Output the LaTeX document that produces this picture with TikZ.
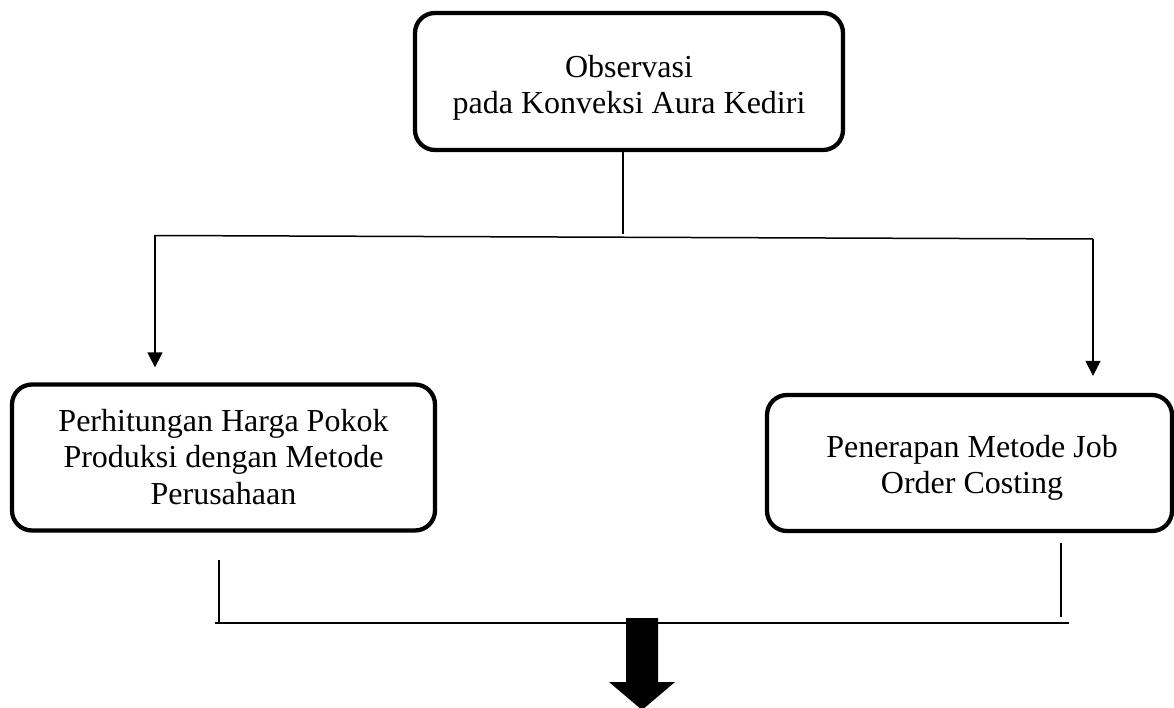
\documentclass[tikz,border=0pt]{standalone}
\usepackage{fontspec}
\setmainfont{Liberation Serif}
\usetikzlibrary{arrows.meta,calc}
\begin{document}
\begin{tikzpicture}[x=1pt,y=-1pt,
  box/.style={draw, line width=4.3pt, rounded corners=20pt, inner sep=0pt},
  txt/.style={align=center, font=\fontsize{32}{36.5}\selectfont, inner sep=0pt},
  conn/.style={line width=1.5pt},
  arr/.style={conn, -{Triangle[width=15pt,length=15pt]}}]
\useasboundingbox (0,0) rectangle (1174,708);
% boxes
\node[box, minimum width=428pt, minimum height=137pt] (obs) at (629,81.5) {};
\node[txt] (obsT) at (629,88) {Observasi\\pada Konveksi Aura Kediri};
\node[box, minimum width=423pt, minimum height=146pt] (perh) at (223.5,457.5) {};
\node[txt] (perhT) at (223.5,457) {Perhitungan Harga Pokok\\Produksi dengan Metode\\Perusahaan};
\node[box, minimum width=405pt, minimum height=136pt] (jobc) at (969.5,463) {};
\node[txt] (jobcT) at (972,468) {Penerapan Metode Job\\Order Costing};
% top connectors
\coordinate (jT) at (623,234);
\coordinate (jL) at (155,235.5);
\coordinate (jR) at (1093,239);
\draw[conn] (obs.south -| jT) -- (jT);
\draw[conn] (jL) -- (jR);
\draw[arr, shorten >=15pt] (jL) -- (jL |- perh.north);
\draw[arr, shorten >=17pt] (jR) -- (jR |- jobc.north);
% bottom connectors
\coordinate (lTop) at (219,560);
\coordinate (bL) at (215,623);
\coordinate (bR) at (1069,623);
\coordinate (rTop) at (1061,543);
\coordinate (rBot) at (1061,617);
\draw[conn] (lTop) -- ($(lTop |- bL)+(0,1)$);
\draw[conn] (bL) -- (bR);
\draw[conn] (rTop) -- (rBot);
% thick down arrow
\coordinate (aTop) at (642,618);
\fill ($(aTop)+(-16,0)$) -- ($(aTop)+(16,0)$) -- ($(aTop)+(16,64)$) -- ($(aTop)+(33,64)$)
  -- ($(aTop)+(0,92)$) -- ($(aTop)+(-33,64)$) -- ($(aTop)+(-16,64)$) -- cycle;
\end{tikzpicture}
\end{document}
